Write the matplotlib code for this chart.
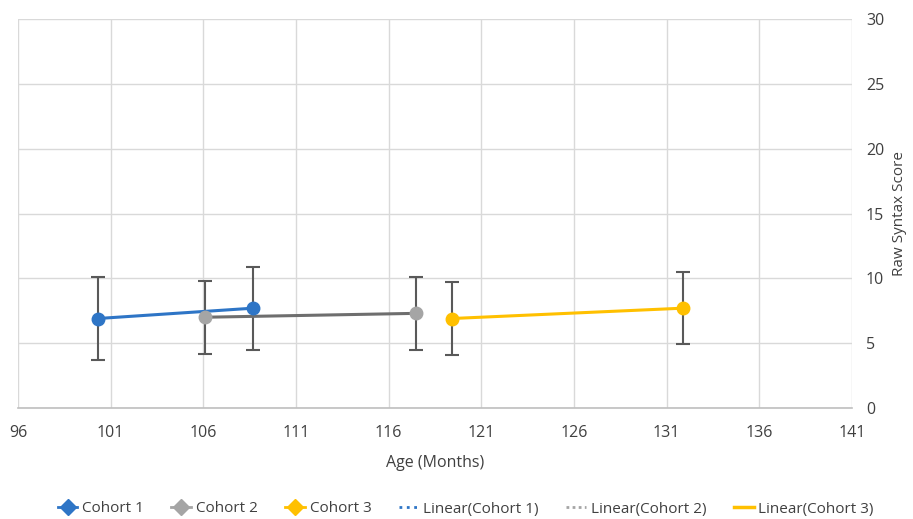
import matplotlib.pyplot as plt
from matplotlib.lines import Line2D

# data
cohorts = ['Cohort 1', 'Cohort 2', 'Cohort 3']
age_c1 = [100.3, 108.7]
score_c1 = [6.9, 7.7]
sd_c1 = [3.2, 3.2]
age_c2 = [106.1, 117.5]
score_c2 = [7.0, 7.3]
sd_c2 = [2.8, 2.8]
age_c3 = [119.4, 131.9]
score_c3 = [6.9, 7.7]
sd_c3 = [2.8, 2.8]

x_ticks = [96, 101, 106, 111, 116, 121, 126, 131, 136, 141]
y_ticks = [0, 5, 10, 15, 20, 25, 30]

plt.rcParams['font.family'] = ['Open Sans', 'DejaVu Sans']
text_col = '#404040'

fig = plt.figure(figsize=(9.13, 5.19), dpi=100)
ax = fig.add_axes([18 / 913, 1 - 408 / 519, (852 - 18) / 913, (408 - 19) / 519])

series = [
    (age_c1, score_c1, sd_c1, '#2e75c6'),
    (age_c2, score_c2, sd_c2, '#a5a5a5'),
    (age_c3, score_c3, sd_c3, '#ffc000'),
]

for xs, ys, sds, col in series:
    ax.errorbar(xs, ys, yerr=sds, fmt='none', ecolor='#595959', elinewidth=1.5,
                capsize=5, capthick=1.5, zorder=3)
    # trend line through the two cohort means
    line_col = '#6e6e6e' if col == '#a5a5a5' else col
    ax.plot(xs, ys, color=line_col, lw=2.2, zorder=4)
    ax.plot(xs, ys, 'o', color=col, ms=9, zorder=5)

ax.set_xlim(96, 141)
ax.set_ylim(0, 30)
ax.set_xticks(x_ticks)
ax.set_yticks(y_ticks)
ax.yaxis.tick_right()
ax.yaxis.set_label_position('right')
ax.tick_params(axis='both', length=0, labelsize=11.5, colors=text_col)
ax.tick_params(axis='x', pad=12)
ax.tick_params(axis='y', pad=10)
ax.grid(True, color='#d9d9d9', lw=1)
ax.set_axisbelow(True)
for s in ['top', 'left', 'right']:
    ax.spines[s].set_visible(False)
ax.spines['bottom'].set_color('#bfbfbf')
ax.spines['bottom'].set_linewidth(1.2)

ax.set_xlabel('Age (Months)', fontsize=11.5, color=text_col, labelpad=10)
ax.set_ylabel('Raw Syntax Score', fontsize=11, color=text_col, labelpad=6)

handles = [
    Line2D([], [], color='#2e75c6', marker='D', ms=8, lw=2),
    Line2D([], [], color='#a5a5a5', marker='D', ms=8, lw=2),
    Line2D([], [], color='#ffc000', marker='D', ms=8, lw=2),
    Line2D([], [], color='#2e75c6', ls=':', lw=2),
    Line2D([], [], color='#a5a5a5', ls=(0, (1, 1.2)), lw=2),
    Line2D([], [], color='#ffc000', ls='-', lw=2.5),
]
labels = cohorts + ['Linear(Cohort 1)', 'Linear(Cohort 2)', 'Linear(Cohort 3)']
fig.legend(handles, labels, loc='center', bbox_to_anchor=(0.51, 1 - 509 / 519),
           ncol=6, frameon=False, fontsize=11, handlelength=1.3, handletextpad=0.3,
           columnspacing=1.8, labelcolor=text_col)

fig.savefig('out.png', dpi=100)
